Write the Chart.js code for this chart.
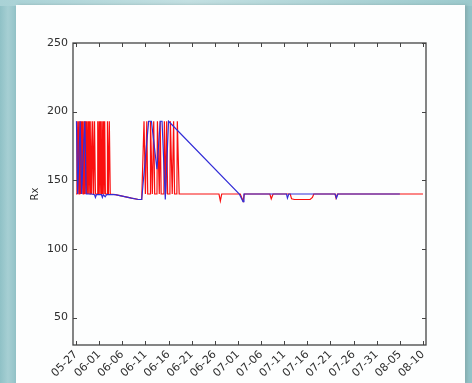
<!DOCTYPE html>
<html>
<head>
<meta charset="utf-8">
<script src="https://cdn.jsdelivr.net/npm/chart.js@4/dist/chart.umd.min.js"></script>
<style>
  html, body { margin: 0; padding: 0; width: 472px; height: 383px; overflow: hidden; }
  body { background: linear-gradient(90deg, #8fc1c6 0px, #a6cfd3 8px, #93c3c8 16px); position: relative; }
  #topband { position: absolute; left: 0; top: 0; width: 472px; height: 6px; background: linear-gradient(90deg, #a9d2d6, #c3e0e2 40%, #9ccacd); }
  #panel { position: absolute; left: 16px; top: 5px; width: 449px; height: 378px; background: #fdfefe; box-shadow: 2px 0 3px rgba(120,150,150,0.5); }
  #wrap { position: absolute; left: 0; top: 0; width: 472px; height: 383px; }
</style>
</head>
<body>
<div id="topband"></div>
<div id="panel"></div>
<div id="wrap"><canvas id="rx" width="472" height="383"></canvas></div>
<script>
// days counted from 05-27
const xTicks = [0, 5, 10, 15, 20, 25, 30, 35, 40, 45, 50, 55, 60, 65, 70, 75];
const xTickLabels = ['05-27', '06-01', '06-06', '06-11', '06-16', '06-21', '06-26', '07-01',
                     '07-06', '07-11', '07-16', '07-21', '07-26', '07-31', '08-05', '08-10'];
const yTicks = [50, 100, 150, 200, 250];

const redDays = [0.0, 0.2, 0.35, 0.5, 0.65, 0.8, 0.95, 1.1, 1.25, 1.4, 1.55, 1.7, 1.85, 2.0, 2.15, 2.3, 2.45, 2.6, 2.75,
                 2.9, 3.05, 3.2, 3.4, 3.6, 3.8, 4.0, 4.2,
                 4.6, 4.7, 4.85, 5.0, 5.15, 5.3, 5.45, 5.6, 5.75, 5.9, 6.05, 6.2, 6.35,
                 6.7, 6.8, 7.0, 7.2, 7.4,
                 8.5, 10.0, 12.0, 13.5, 14.2,
                 14.7, 15.0, 15.3, 15.5, 16.0, 16.1, 16.5, 16.8, 17.0, 17.5, 17.6, 18.0, 18.2, 18.4,
                 19.0, 19.1, 19.4, 19.6, 19.8, 20.3, 20.4, 20.8, 21.1, 21.3, 21.8, 21.9, 22.3,
                 26.0, 30.9, 31.2, 31.5, 35.5, 36.1, 36.4, 41.9, 42.2, 42.6, 46.3, 46.6, 47.2, 50.6, 51.1, 51.4,
                 56.0, 56.2, 56.5, 75.0];
const redRx = [140, 193, 140, 193, 140, 193, 140, 193, 140, 193, 140, 193, 140, 193, 140, 193, 140, 193, 140,
               193, 140, 193, 140, 193, 140, 193, 140,
               140, 193, 140, 193, 140, 193, 140, 193, 140, 193, 140, 193, 140,
               140, 193, 140, 193, 140,
               139.5, 138.5, 137, 136, 136,
               193, 140, 193, 140, 140, 193, 140, 193, 140, 140, 193, 140, 193, 140,
               140, 193, 140, 193, 140, 140, 193, 140, 193, 140, 140, 193, 140,
               140, 140, 135, 140, 140, 135, 140, 140, 136.5, 140, 140, 136.5, 136, 136, 137.5, 140,
               140, 137, 140, 140];

const blueDays = [0.1, 0.35, 0.9, 1.2, 1.9, 2.2, 3.3, 4.0, 4.2, 4.4, 5.5, 5.7, 5.9, 6.3, 6.6,
                  8.5, 10.0, 12.0, 13.5, 14.2, 15.7, 16.3, 17.5, 18.2, 18.6, 19.3, 20.0,
                  35.3, 36.1, 36.3, 45.5, 45.7, 46.0, 56.0, 56.3, 56.6, 70.0];
const blueRx = [193, 140, 193, 140, 193, 140, 140, 139.5, 137.5, 139.5, 139.5, 137.5, 139.5, 138, 139.5,
                139.5, 138.5, 137, 136, 136, 193, 193, 158, 193, 193, 136, 193,
                140, 134.5, 140, 140, 137, 140, 140, 137, 140, 140];

const toPoints = (xs, ys) => xs.map((x, i) => ({x: x, y: ys[i]}));

const fontSpec = {family: 'DejaVu Sans', size: 11};
const axisColor = '#2e2e2e';

// matplotlib-like frame with inward ticks on all four sides
const framePlugin = {
    id: 'frame',
    afterDatasetsDraw(chart) {
        const {ctx, chartArea: a, scales} = chart;
        ctx.save();
        ctx.strokeStyle = '#444';
        ctx.lineWidth = 1.3;
        ctx.strokeRect(a.left, a.top, a.right - a.left, a.bottom - a.top);
        ctx.lineWidth = 1;
        ctx.beginPath();
        xTicks.forEach(v => {
            const px = Math.round(scales.x.getPixelForValue(v)) + 0.5;
            ctx.moveTo(px, a.bottom); ctx.lineTo(px, a.bottom - 4);
            ctx.moveTo(px, a.top); ctx.lineTo(px, a.top + 4);
        });
        yTicks.forEach(v => {
            const py = Math.round(scales.y.getPixelForValue(v)) + 0.5;
            ctx.moveTo(a.left, py); ctx.lineTo(a.left + 4, py);
            ctx.moveTo(a.right, py); ctx.lineTo(a.right - 4, py);
        });
        ctx.stroke();
        ctx.restore();
    }
};

new Chart(document.getElementById('rx').getContext('2d'), {
    type: 'line',
    data: {
        datasets: [{
            label: 'blue',
            data: toPoints(blueDays, blueRx),
            borderColor: 'rgb(50, 45, 215)',
            borderWidth: 1.2,
            pointRadius: 0,
            tension: 0
        }, {
            label: 'red',
            data: toPoints(redDays, redRx),
            borderColor: 'rgb(250, 15, 15)',
            borderWidth: 1.2,
            pointRadius: 0,
            tension: 0
        }]
    },
    options: {
        responsive: false,
        animation: false,
        events: [],
        layout: {padding: {left: 0, right: 46, top: 43, bottom: 0}},
        plugins: {legend: {display: false}, tooltip: {enabled: false}},
        scales: {
            x: {
                type: 'linear',
                min: -0.65,
                max: 75.65,
                grid: {display: false, drawTicks: false},
                border: {display: false},
                afterBuildTicks: s => { s.ticks = xTicks.map(v => ({value: v})); },
                afterFit: s => { s.height = 38; },
                ticks: {
                    color: axisColor,
                    font: {family: 'DejaVu Sans', size: 11},
                    padding: 3,
                    autoSkip: false,
                    minRotation: 45,
                    maxRotation: 45,
                    callback: (v, i) => xTickLabels[i]
                }
            },
            y: {
                min: 30,
                max: 250,
                grid: {display: false, drawTicks: false},
                border: {display: false},
                afterBuildTicks: s => { s.ticks = yTicks.map(v => ({value: v})); },
                afterFit: s => { s.width = 73; },
                ticks: {color: axisColor, font: fontSpec, padding: 5},
                title: {
                    display: true,
                    text: 'Rx',
                    color: axisColor,
                    font: {family: 'DejaVu Sans', size: 10},
                    padding: {top: 29, bottom: 0}
                }
            }
        }
    },
    plugins: [framePlugin]
});
</script>
</body>
</html>
